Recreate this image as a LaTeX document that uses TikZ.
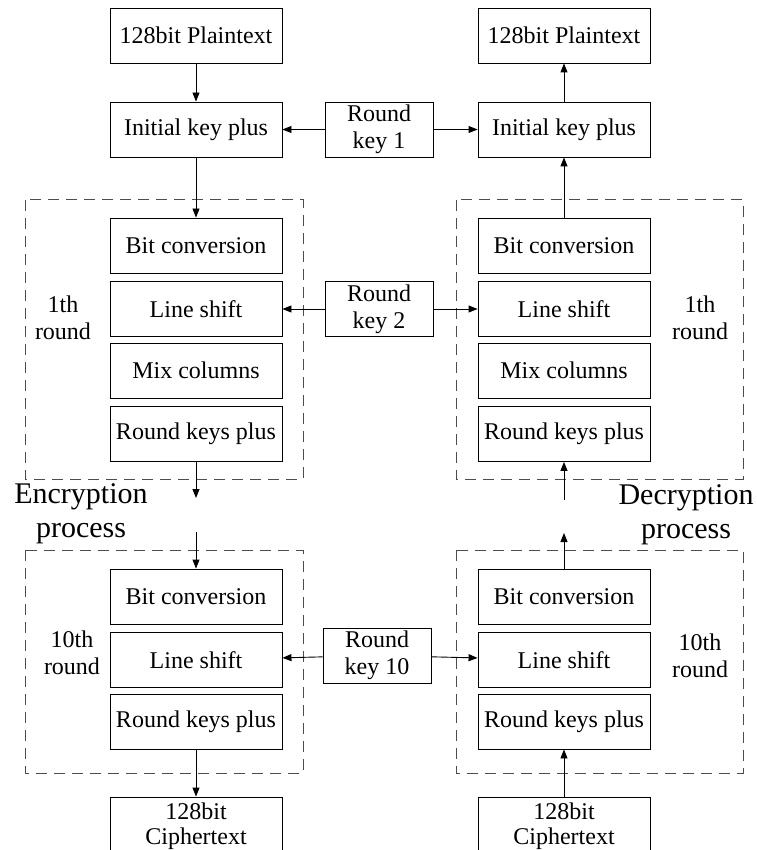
\documentclass[tikz,border=0pt]{standalone}
\usepackage{fontspec}
\setmainfont{Liberation Serif}
\usetikzlibrary{arrows.meta}
\begin{document}
\begin{tikzpicture}[x=1pt,y=-1pt,
  box/.style={draw, line width=0.9pt, minimum width=172pt, minimum height=55pt,
    inner sep=0pt, font=\fontsize{24}{27}\selectfont, align=center},
  keybox/.style={box, minimum width=108pt},
  frame/.style={draw=black!70, line width=1pt, dash pattern=on 11pt off 7pt},
  flow/.style={line width=0.9pt, -{Triangle[length=9pt,width=7pt]}},
  lbl/.style={font=\fontsize{24}{27}\selectfont, align=center},
  big/.style={font=\fontsize{30}{34}\selectfont, align=center}]
\useasboundingbox (0,0) rectangle (756,850);

% round frames
\draw[frame] (25,200) rectangle (303,479);
\draw[frame] (456,200) rectangle (743,479);
\draw[frame] (25,550) rectangle (303,773);
\draw[frame] (456,550) rectangle (743,773);

% encryption column
\node[box] (ePlain) at (196,35.5) {128bit Plaintext};
\node[box] (eInit)  at (196,129.5) {Initial key plus};
\node[box] (eBC1)   at (196,245.5) {Bit conversion};
\node[box] (eLS1)   at (196,309) {Line shift};
\node[box] (eMC1)   at (196,370.5) {Mix columns};
\node[box] (eRK1)   at (196,434) {Round keys plus};
\node[box] (eBC2)   at (196,596.5) {Bit conversion};
\node[box] (eLS2)   at (196,660) {Line shift};
\node[box] (eRK2)   at (196,721.5) {Round keys plus};
\node[box, minimum height=58pt, font=\fontsize{24}{25}\selectfont] (eCiph) at (196,826) {128bit\\Ciphertext};

% decryption column
\node[box] (dPlain) at (564,35.5) {128bit Plaintext};
\node[box] (dInit)  at (564,129.5) {Initial key plus};
\node[box] (dBC1)   at (564,245.5) {Bit conversion};
\node[box] (dLS1)   at (564,309) {Line shift};
\node[box] (dMC1)   at (564,370.5) {Mix columns};
\node[box] (dRK1)   at (564,434) {Round keys plus};
\node[box] (dBC2)   at (564,596.5) {Bit conversion};
\node[box] (dLS2)   at (564,660) {Line shift};
\node[box] (dRK2)   at (564,721.5) {Round keys plus};
\node[box, minimum height=58pt, font=\fontsize{24}{25}\selectfont] (dCiph) at (564,826) {128bit\\Ciphertext};

% round keys
\node[keybox] (key1)  at (379,129.5) {Round\\key 1};
\node[keybox] (key2)  at (379,309) {Round\\key 2};
\node[keybox] (key10) at (377,655.5) {Round\\key 10};

% labels
\node[lbl] (eR1)  at (63,318) {1th\\round};
\node[lbl] (dR1)  at (700,318) {1th\\round};
\node[lbl] (eR10) at (72,653) {10th\\round};
\node[lbl] (dR10) at (700,656) {10th\\round};
\node[big] (encL) at (81,514) {Encryption\\process};
\node[big] (decL) at (686,515) {Decryption\\process};

% free ends of the broken arrows between rounds
\coordinate (eGapA) at (196,498);
\coordinate (eGapB) at (196,532);
\coordinate (dGapA) at (564,533);
\coordinate (dGapB) at (564,500);

% encryption flow
\draw[flow] (ePlain) -- (eInit);
\draw[flow] (eInit) -- (eBC1);
\draw[flow] (eRK1) -- (eGapA);
\draw[flow] (eGapB) -- (eBC2);
\draw[flow] (eRK2) -- (eCiph);

% decryption flow
\draw[flow] (dInit) -- (dPlain);
\draw[flow] (dBC1) -- (dInit);
\draw[flow] (dGapB) -- (dRK1);
\draw[flow] (dBC2) -- (dGapA);
\draw[flow] (dCiph) -- (dRK2);

% key additions
\draw[flow] (key1) -- (eInit);
\draw[flow] (key1) -- (dInit);
\draw[flow] (key2) -- (eLS1);
\draw[flow] (key2) -- (dLS1);
\draw[flow] (key10) -- (eLS2);
\draw[flow] (key10) -- (dLS2);
\end{tikzpicture}
\end{document}
